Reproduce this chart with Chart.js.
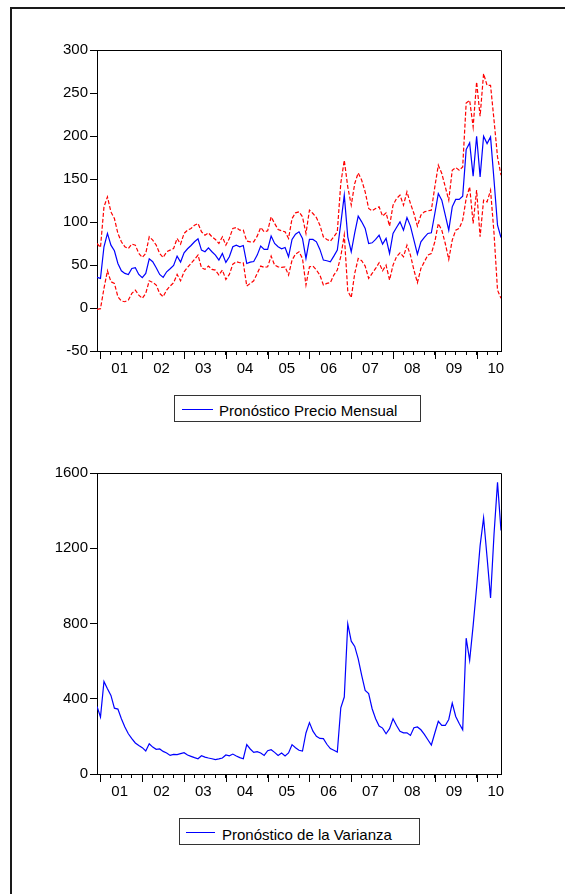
<!DOCTYPE html>
<html>
<head>
<meta charset="utf-8">
<script src="https://cdn.jsdelivr.net/npm/chart.js@4/dist/chart.umd.min.js"></script>
<style>
  body { margin: 0; background: #fff; width: 565px; height: 894px; position: relative; overflow: hidden;
         font-family: "Liberation Sans", Arial, sans-serif; }
  .frame { position: absolute; left: 10px; top: 7px; width: 700px; height: 1000px;
           border-top: 2px solid #1a1a1a; border-left: 2px solid #1a1a1a; }
  canvas { position: absolute; left: 0; }
  .legend { position: absolute; border: 1px solid #333; background: #fff; font-size: 15px; color: #000; white-space: nowrap; }
  .legend .swatch { position: absolute; height: 0; border-top: 1px solid #0000ff; }
  .legend .txt { position: absolute; line-height: 17px; }
</style>
</head>
<body>
<div class="frame"></div>
<canvas id="precio" width="565" height="440" style="top:0"></canvas>
<canvas id="varianza" width="565" height="440" style="top:430px"></canvas>

<div class="legend" style="left:174px; top:395px; width:245px; height:25px;">
  <div class="swatch" style="left:7px; top:13px; width:31px;"></div>
  <div class="txt" style="left:44px; top:6px;">Pronóstico Precio Mensual</div>
</div>
<div class="legend" style="left:179px; top:818px; width:239px; height:25px;">
  <div class="swatch" style="left:6px; top:13px; width:29px;"></div>
  <div class="txt" style="left:42px; top:7px;">Pronóstico de la Varianza</div>
</div>

<script>
// monthly observations, 2000m12 .. 2010m8 (index 0 = 2000m12)
const yearLabels = ["01", "02", "03", "04", "05", "06", "07", "08", "09", "10"];

// forecast of monthly price
const pronostico = [
  35.6, 34.4, 71.2, 86.7, 73.1, 66.5, 51.8, 43.3, 40.2, 39,
  46, 46.8, 39, 35.2, 40.2, 57.2, 53.8, 46.8, 39, 35.6,
  42.1, 45.6, 49.5, 60.3, 53.4, 64.2, 68.9, 72.7, 77, 80.5,
  67.3, 65.4, 70, 65.4, 61.5, 55.7, 63.4, 53, 59.6, 71.2,
  73.1, 71.2, 72.7, 51.8, 53.4, 54.1, 61.5, 72, 68.1, 68.1,
  83.6, 75, 71.2, 68.9, 70.4, 59.6, 79.7, 85.9, 88.6, 80.9,
  57.6, 79.7, 79.7, 77, 68.1, 55.7, 54.9, 53.8, 60.3, 67.3,
  98.3, 131.2, 82.8, 65.4, 87.4, 106.8, 100.2, 92.5, 75, 75.8,
  79.7, 84.7, 74.3, 80.9, 63.4, 86.7, 93.6, 100.2, 90.5, 105.2,
  95.2, 78.9, 62.7, 77, 82, 86.7, 87.4, 109.9, 133.1, 125.4,
  108, 90.5, 117.6, 126.2, 126.2, 130, 184.2, 192, 153.3, 199.7,
  152.5, 199.7, 191.2, 198.9, 148.6, 96.3, 82
];

// upper band (red dashed)
const bandaSup = [
  75, 70.4, 117.6, 129.2, 111.8, 104, 86.7, 77, 71.2, 69.2,
  74.3, 73.1, 63.4, 58.8, 63.4, 82.8, 78.9, 73.1, 63.4, 58.8,
  65.4, 67.3, 69.2, 80.9, 74.3, 86.7, 90.5, 92.5, 96.3, 98.3,
  88.6, 84.7, 87.4, 82.8, 79.7, 75, 82.8, 73.1, 80.9, 92.5,
  93.6, 90.5, 90.5, 77.8, 77, 77, 83.6, 93.6, 88.6, 89.8,
  106, 98.3, 91.3, 89.8, 88.6, 80.9, 104, 110.7, 111.8, 106,
  86.7, 113.8, 109.9, 105.2, 96.3, 82.8, 79.7, 77.8, 82.8, 88.6,
  145, 171.8, 140.9, 119.6, 144.7, 157.1, 148.6, 135.1, 115.7, 113,
  115.7, 117.6, 106.8, 110.7, 95.2, 119.6, 127.3, 131.2, 119.6, 135.1,
  121.5, 109.9, 95.2, 108, 111.8, 113, 113.8, 140.9, 166, 156.4,
  140.9, 125.4, 160.2, 163.3, 160.2, 164.1, 238.4, 241.5, 210.6, 262.8,
  222.9, 272.5, 258.9, 258.9, 218.3, 175.7, 154.4
];

// lower band (red dashed)
const bandaInf = [
  -1.6, -0.8, 22.8, 43.3, 30.5, 28.6, 13.1, 8.1, 7.3, 9.2,
  17, 20.8, 15, 11.2, 17, 31.7, 29.8, 26.7, 17, 13.1,
  20.8, 25.5, 29.4, 39, 31.7, 42.1, 47.2, 51.8, 56.5, 61.5,
  46.8, 44.9, 48.7, 44.9, 44.1, 38.3, 44.1, 33.2, 39, 51,
  53.8, 52.6, 52.6, 25.5, 28.6, 31.7, 40.2, 48.7, 47.2, 47.9,
  60.3, 49.9, 47.9, 47.2, 47.9, 38.3, 55.7, 62.7, 65.4, 57.6,
  26.7, 47.9, 48.7, 44.1, 38.3, 26.7, 28.6, 29.4, 38.3, 44.1,
  60, 85, 20, 12, 40.2, 57.6, 54.9, 48.7, 34.4, 40.2,
  46, 52.6, 43.3, 49.9, 32.5, 49.9, 59.6, 64.2, 59.6, 73.1,
  61.5, 44.1, 29.4, 46, 53.8, 61.5, 63.4, 77, 98.3, 90.5,
  75, 56.5, 78.9, 90.5, 92.5, 102.1, 127.3, 140.9, 98.3, 137,
  82.8, 125.4, 123.4, 137, 86.7, 20.8, 11.2
];

// variance forecast
const varianza = [
  359, 303, 492, 453, 418, 350, 345, 294, 250, 214,
  188, 165, 152, 140, 122, 161, 143, 131, 133, 120,
  112, 99, 104, 103, 108, 113, 101, 94, 87, 81,
  97, 90, 85, 81, 76, 80, 85, 101, 97, 106,
  96, 87, 81, 156, 133, 115, 119, 112, 99, 124,
  129, 115, 99, 112, 96, 112, 156, 140, 126, 122,
  218, 273, 228, 200, 189, 188, 158, 135, 126, 117,
  352, 409, 798, 706, 678, 612, 524, 444, 427, 347,
  294, 255, 244, 214, 241, 294, 258, 227, 219, 219,
  205, 246, 250, 235, 211, 182, 154, 218, 280, 258,
  258, 290, 377, 306, 268, 235, 722, 604, 789, 993,
  1214, 1361, 1152, 936, 1276, 1550, 1294
];

const lastIdx = pronostico.length - 1;
const pts = arr => arr.map((v, i) => ({ x: i, y: v }));

// quarter ticks; year k starts at index 1 + 12k
const yearStarts = yearLabels.map((_, k) => 1 + 12 * k);
const quarterTicks = [];
yearStarts.forEach(s => [0, 3, 6, 9].forEach(q => { if (s + q <= lastIdx) quarterTicks.push(s + q); }));

const font = { family: '"Liberation Sans", Arial, sans-serif', size: 15 };

// box on top/right and long year ticks
const frameAndTicks = {
  id: 'frameAndTicks',
  afterDraw(chart) {
    const { ctx, chartArea: a, scales } = chart;
    ctx.save();
    ctx.strokeStyle = '#000';
    ctx.lineWidth = 1;
    ctx.beginPath();
    ctx.moveTo(a.left, a.top + 0.5);
    ctx.lineTo(a.right + 0.5, a.top + 0.5);
    ctx.lineTo(a.right + 0.5, a.bottom);
    yearStarts.forEach(v => {
      const px = Math.round(scales.x.getPixelForValue(v)) + 0.5;
      ctx.moveTo(px, a.bottom);
      ctx.lineTo(px, a.bottom + 8);
    });
    ctx.stroke();
    ctx.restore();
  }
};

function xScale(height) {
  return {
    type: 'linear', min: 0, max: lastIdx,
    afterFit: s => { s.height = height; },
    afterBuildTicks: s => { s.ticks = quarterTicks.map(v => ({ value: v })); },
    grid: { drawOnChartArea: false, tickLength: 4, tickColor: '#000' },
    border: { color: '#000', width: 1 },
    ticks: {
      autoSkip: false, maxRotation: 0, padding: 5, labelOffset: -1.7, color: '#000', font,
      callback: v => { const k = yearStarts.indexOf(v - 6); return k >= 0 ? yearLabels[k] : ''; }
    }
  };
}

function yScale(min, max, step) {
  return {
    min, max,
    afterFit: s => { s.width = 97; },
    grid: { drawOnChartArea: false, tickLength: 7, tickColor: '#000' },
    border: { color: '#000', width: 1 },
    ticks: { stepSize: step, padding: 2, color: '#000', font, callback: v => String(v) }
  };
}

const common = {
  responsive: false,
  animation: false,
  plugins: { legend: { display: false }, tooltip: { enabled: false } }
};

new Chart(document.getElementById('precio'), {
  type: 'line',
  data: {
    datasets: [
      { data: pts(pronostico), borderColor: '#0000ff', borderWidth: 1.2, pointRadius: 0, tension: 0 },
      { data: pts(bandaSup), borderColor: '#ff0000', borderWidth: 1.2, borderDash: [4, 2], pointRadius: 0, tension: 0 },
      { data: pts(bandaInf), borderColor: '#ff0000', borderWidth: 1.2, borderDash: [4, 2], pointRadius: 0, tension: 0 }
    ]
  },
  options: Object.assign({}, common, {
    layout: { padding: { top: 50, right: 64, left: 0, bottom: 0 } },
    scales: { x: xScale(89), y: yScale(-50, 300, 50) }
  }),
  plugins: [frameAndTicks]
});

new Chart(document.getElementById('varianza'), {
  type: 'line',
  data: {
    datasets: [
      { data: pts(varianza), borderColor: '#0000ff', borderWidth: 1.2, pointRadius: 0, tension: 0 }
    ]
  },
  options: Object.assign({}, common, {
    layout: { padding: { top: 43, right: 64, left: 0, bottom: 0 } },
    scales: { x: xScale(96), y: yScale(0, 1600, 400) }
  }),
  plugins: [frameAndTicks]
});
</script>
</body>
</html>
